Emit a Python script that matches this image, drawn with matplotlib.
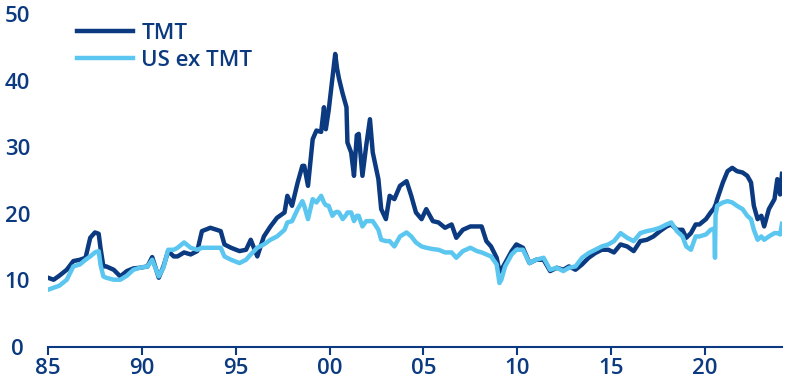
import matplotlib
matplotlib.use('Agg')
import matplotlib.pyplot as plt

plt.rcParams['font.family'] = ['Open Sans', 'DejaVu Sans']
plt.rcParams['font.weight'] = 'semibold'

# Forward P/E, decimal years
years = [1985.0, 1985.3, 1985.6, 1986.0, 1986.35, 1986.7, 1987.0, 1987.25, 1987.5, 1987.7,
         1987.8, 1987.95, 1988.1, 1988.5, 1988.85, 1989.2, 1989.55, 1989.9, 1990.3, 1990.55,
         1990.9, 1991.15, 1991.4, 1991.7, 1991.9, 1992.25, 1992.6, 1992.95, 1993.2, 1993.65,
         1994.2, 1994.4, 1994.75, 1995.2, 1995.55, 1995.8, 1996.15, 1996.5, 1996.85, 1997.2,
         1997.6, 1997.75, 1998.0, 1998.3, 1998.55, 1998.65, 1998.85, 1999.1, 1999.3, 1999.55,
         1999.7, 1999.8, 1999.95, 2000.15, 2000.3, 2000.4, 2000.5, 2000.7, 2000.9, 2000.95,
         2001.15, 2001.3, 2001.45, 2001.55, 2001.75, 2001.95, 2002.15, 2002.3, 2002.6, 2002.75,
         2003.0, 2003.2, 2003.45, 2003.75, 2004.1, 2004.35, 2004.6, 2004.9, 2005.15, 2005.5,
         2005.8, 2006.15, 2006.5, 2006.75, 2007.1, 2007.5, 2007.85, 2008.1, 2008.35, 2008.6,
         2008.9, 2009.05, 2009.15, 2009.35, 2009.7, 2009.95, 2010.3, 2010.65, 2011.0, 2011.4,
         2011.75, 2012.1, 2012.45, 2012.75, 2013.1, 2013.45, 2013.8, 2014.15, 2014.5, 2014.85,
         2015.15, 2015.5, 2015.85, 2016.2, 2016.55, 2016.9, 2017.25, 2017.6, 2017.95, 2018.2,
         2018.5, 2018.8, 2019.0, 2019.25, 2019.5, 2019.7, 2020.05, 2020.3, 2020.5, 2020.53,
         2020.56, 2020.65, 2020.95, 2021.2, 2021.45, 2021.7, 2022.0, 2022.25, 2022.45, 2022.6,
         2022.8, 2023.0, 2023.15, 2023.4, 2023.7, 2023.85, 2024.0, 2024.1]

tmt = [10.4, 10.1, 10.7, 11.6, 12.9, 13.1, 13.4, 16.4, 17.2, 17.0,
       14.8, 12.1, 12.1, 11.6, 10.6, 11.4, 11.8, 11.9, 12.1, 13.5,
       10.4, 12.1, 14.4, 13.6, 13.6, 14.2, 13.9, 14.4, 17.4, 17.9,
       17.4, 15.4, 14.9, 14.4, 14.6, 16.1, 13.6, 16.6, 18.1, 19.4,
       20.2, 22.7, 21.2, 24.7, 27.2, 27.2, 24.2, 31.2, 32.5, 32.3,
       36.0, 32.7, 35.5, 40.3, 44.0, 41.8, 40.3, 38.0, 36.0, 30.7,
       29.2, 25.7, 31.8, 32.0, 25.7, 30.2, 34.2, 29.2, 25.2, 20.7,
       19.2, 22.7, 22.2, 24.2, 24.9, 22.7, 20.2, 19.2, 20.7, 18.9,
       18.7, 17.9, 18.4, 16.4, 17.6, 18.1, 18.1, 18.1, 15.9, 15.1,
       13.4, 11.3, 11.6, 12.6, 14.4, 15.4, 14.9, 12.6, 13.1, 13.1,
       11.4, 11.9, 11.6, 12.1, 11.6, 12.4, 13.4, 14.1, 14.6, 14.6,
       14.2, 15.4, 15.1, 14.4, 15.9, 16.1, 16.6, 17.4, 18.1, 18.4,
       17.6, 17.6, 16.4, 17.1, 18.4, 18.4, 19.2, 20.2, 20.9, 21.2,
       21.3, 22.2, 24.7, 26.4, 26.9, 26.4, 26.2, 25.7, 24.7, 21.2,
       19.2, 19.7, 18.1, 20.7, 22.2, 25.2, 22.9, 26.0]

us_ex_tmt = [8.6, 8.9, 9.2, 10.1, 12.1, 12.4, 13.1, 13.6, 14.2, 14.4,
             12.3, 10.6, 10.4, 10.1, 10.1, 10.7, 11.6, 11.9, 12.1, 13.1,
             10.6, 11.9, 14.6, 14.6, 14.9, 15.7, 14.9, 14.6, 14.9, 14.9,
             14.9, 13.6, 13.1, 12.6, 13.1, 13.9, 14.9, 15.4, 16.1, 16.6,
             17.6, 18.7, 18.9, 20.7, 21.9, 21.2, 19.2, 22.2, 21.7, 22.7,
             21.7, 21.3, 21.2, 19.7, 20.2, 20.3, 20.2, 19.2, 19.9, 20.2,
             20.2, 18.9, 19.7, 19.7, 18.1, 18.9, 18.9, 18.9, 17.6, 16.1,
             15.9, 15.9, 15.1, 16.6, 17.2, 16.6, 15.7, 15.1, 14.9, 14.7,
             14.6, 14.2, 14.2, 13.4, 14.4, 14.9, 14.4, 14.2, 13.9, 13.6,
             12.4, 9.6, 10.1, 12.1, 13.9, 14.6, 14.6, 12.6, 13.1, 13.4,
             11.6, 11.9, 11.4, 11.9, 12.1, 13.4, 14.1, 14.6, 15.1, 15.4,
             15.9, 17.1, 16.4, 15.9, 17.1, 17.4, 17.6, 17.9, 18.4, 18.7,
             17.4, 16.6, 15.1, 14.6, 16.6, 16.6, 16.9, 17.6, 17.8, 13.4,
             19.8, 21.2, 21.7, 21.9, 21.7, 21.2, 20.7, 19.7, 19.2, 17.6,
             16.1, 16.6, 16.1, 16.6, 17.1, 17.1, 16.9, 18.5]

navy = '#0b3a80'
sky = '#5bc6ef'

fig = plt.figure(figsize=(7.89, 3.87), dpi=100)
ax = fig.add_axes([48 / 789, 1 - 347 / 387, (782 - 48) / 789, (347 - 14) / 387])

ax.plot(years, tmt, color=navy, lw=3.2, label='TMT', zorder=2)
ax.plot(years, us_ex_tmt, color=sky, lw=3.2, label='US ex TMT', zorder=3)

ax.set_xlim(1985, 2024.1)
ax.set_ylim(0, 50)

ax.set_xticks([1985, 1990, 1995, 2000, 2005, 2010, 2015, 2020])
ax.set_xticklabels(['85', '90', '95', '00', '05', '10', '15', '20'])
ax.set_yticks([0, 10, 20, 30, 40, 50])
ax.set_yticklabels(['0', '10', '20', '30', '40', '50'])

for side in ['top', 'right', 'left']:
    ax.spines[side].set_visible(False)
ax.spines['bottom'].set_color(navy)
ax.spines['bottom'].set_linewidth(1.5)

ax.tick_params(axis='x', colors=navy, length=6, width=1.5, labelsize=16, pad=2)
ax.tick_params(axis='y', colors=navy, length=0, labelsize=16, pad=22)
for lbl in ax.get_yticklabels():
    lbl.set_horizontalalignment('center')

leg = ax.legend(loc='upper left', bbox_to_anchor=(77 / 789, 1 - 23 / 387),
                bbox_transform=fig.transFigure, frameon=False, fontsize=16,
                handlelength=2.5, handletextpad=0.4, labelspacing=0.25,
                borderpad=0, borderaxespad=0)
for txt in leg.get_texts():
    txt.set_color(navy)

fig.savefig('out.png', dpi=100)
